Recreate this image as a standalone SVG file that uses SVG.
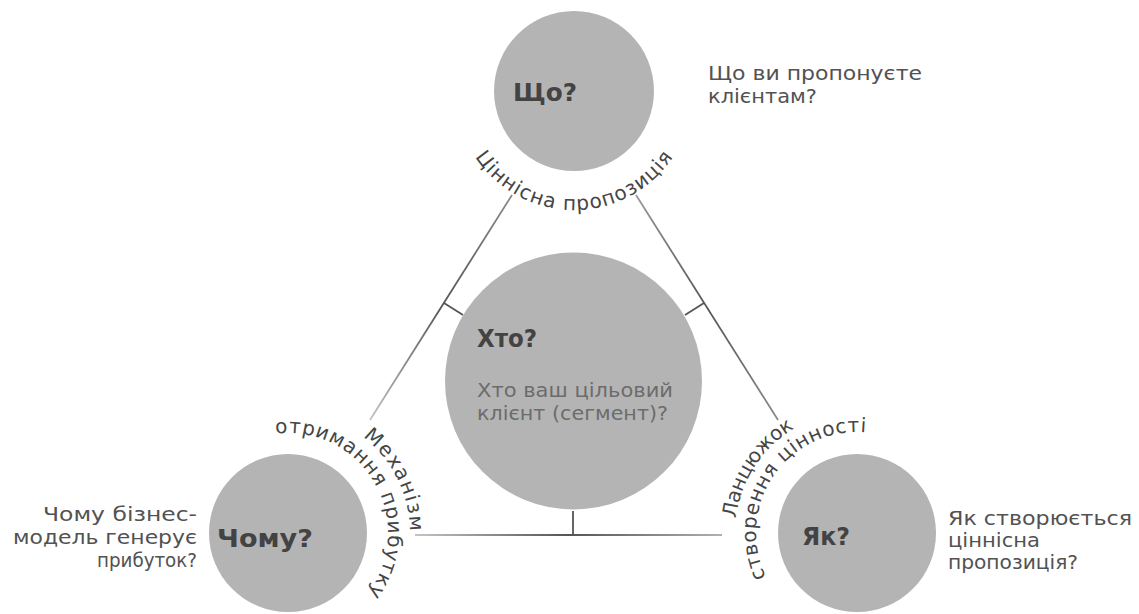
<svg xmlns="http://www.w3.org/2000/svg" xmlns:xlink="http://www.w3.org/1999/xlink" width="1139" height="614" viewBox="0 0 1139 614">
  <style>
    .disc { fill: #b4b4b4; }
    .title { font-family: "DejaVu Sans", "Open Sans", sans-serif; font-weight: bold; font-size: 25px; fill: #434343; }
    .note { font-family: "DejaVu Sans", "Open Sans", sans-serif; font-size: 20px; fill: #525252; }
    .inner { font-family: "DejaVu Sans", "Open Sans", sans-serif; font-size: 20px; fill: #6c6c6c; }
    .arc { font-family: "DejaVu Sans", "Open Sans", sans-serif; font-size: 20px; fill: #454545; }
    .link { fill: none; stroke-width: 1.8; }
  </style>
  <defs>
    <linearGradient id="gLeft" gradientUnits="userSpaceOnUse" x1="512" y1="195" x2="370" y2="420">
      <stop offset="0" stop-color="#8a8a8a"/>
      <stop offset="0.5" stop-color="#555555"/>
      <stop offset="1" stop-color="#c2c2c2"/>
    </linearGradient>
    <linearGradient id="gRight" gradientUnits="userSpaceOnUse" x1="636" y1="195" x2="778" y2="420">
      <stop offset="0" stop-color="#9a9a9a"/>
      <stop offset="0.5" stop-color="#555555"/>
      <stop offset="1" stop-color="#8a8a8a"/>
    </linearGradient>
    <linearGradient id="gBottom" gradientUnits="userSpaceOnUse" x1="415" y1="535" x2="722" y2="535">
      <stop offset="0" stop-color="#c4c4c4"/>
      <stop offset="0.5" stop-color="#555555"/>
      <stop offset="1" stop-color="#b0b0b0"/>
    </linearGradient>
    <!-- baselines for the curved captions -->
    <path id="arcTop" d="M 455,91 A 119 119 0 0 0 693,91"/>
    <path id="arcLeftOuter" d="M 169.4,504.5 A 122 122 0 1 1 239.4,644.9"/>
    <path id="arcLeftInner" d="M 189.5,515.6 A 100 100 0 1 1 253.8,627.0"/>
    <path id="arcRightOuter" d="M 892.7,649.7 A 122 122 0 1 1 978.1,518.1"/>
    <path id="arcRightInner" d="M 884.0,630.3 A 101 101 0 1 1 957.5,523.3"/>
  </defs>

  <rect width="1139" height="614" fill="#ffffff"/>

  <!-- triangle of connectors with ticks pointing at the centre -->
  <g id="connectors">
    <line class="link" stroke="url(#gLeft)" x1="512" y1="195" x2="370" y2="420"/>
    <line class="link" stroke="url(#gRight)" x1="636" y1="195" x2="778" y2="420"/>
    <line class="link" stroke="url(#gBottom)" x1="415" y1="535" x2="722" y2="535"/>
    <line class="link" stroke="#555555" x1="444" y1="303" x2="463" y2="315"/>
    <line class="link" stroke="#555555" x1="704" y1="303" x2="685" y2="315"/>
    <line class="link" stroke="#555555" x1="573" y1="511" x2="573" y2="535"/>
  </g>

  <g id="node-what">
    <circle class="disc" cx="574" cy="91" r="80"/>
    <text class="title" x="513" y="101" textLength="64" lengthAdjust="spacingAndGlyphs">Що?</text>
    <text class="note" x="708" y="80" textLength="214" lengthAdjust="spacingAndGlyphs">Що ви пропонуєте</text>
    <text class="note" x="708" y="103" textLength="109" lengthAdjust="spacingAndGlyphs">клієнтам?</text>
    <text class="arc"><textPath href="#arcTop" startOffset="50%" text-anchor="middle" textLength="234">Ціннісна пропозиція</textPath></text>
  </g>

  <g id="node-who">
    <circle class="disc" cx="573.5" cy="381" r="128.5"/>
    <text class="title" x="477" y="347" textLength="60" lengthAdjust="spacingAndGlyphs">Хто?</text>
    <text class="inner" x="477" y="397" textLength="196" lengthAdjust="spacingAndGlyphs">Хто ваш цільовий</text>
    <text class="inner" x="477" y="420" textLength="191" lengthAdjust="spacingAndGlyphs">клієнт (сегмент)?</text>
  </g>

  <g id="node-why">
    <circle class="disc" cx="288" cy="533" r="79"/>
    <text class="title" x="217" y="547" textLength="96" lengthAdjust="spacingAndGlyphs">Чому?</text>
    <text class="note" x="197" y="521" text-anchor="end" textLength="154" lengthAdjust="spacingAndGlyphs">Чому бізнес-</text>
    <text class="note" x="197" y="544" text-anchor="end" textLength="184" lengthAdjust="spacingAndGlyphs">модель генерує</text>
    <text class="note" x="197" y="567" text-anchor="end" textLength="100" lengthAdjust="spacingAndGlyphs">прибуток?</text>
    <text class="arc"><textPath href="#arcLeftOuter" startOffset="50%" text-anchor="middle" textLength="109">Механізм</textPath></text>
    <text class="arc"><textPath href="#arcLeftInner" startOffset="50%" text-anchor="middle" textLength="234">отримання прибутку</textPath></text>
  </g>

  <g id="node-how">
    <circle class="disc" cx="857" cy="533" r="79"/>
    <text class="title" x="802" y="545" textLength="48" lengthAdjust="spacingAndGlyphs">Як?</text>
    <text class="note" x="948" y="525" textLength="184" lengthAdjust="spacingAndGlyphs">Як створюється</text>
    <text class="note" x="948" y="547" textLength="92" lengthAdjust="spacingAndGlyphs">ціннісна</text>
    <text class="note" x="948" y="569" textLength="130" lengthAdjust="spacingAndGlyphs">пропозиція?</text>
    <text class="arc"><textPath href="#arcRightOuter" startOffset="50%" text-anchor="middle" textLength="111">Ланцюжок</textPath></text>
    <text class="arc"><textPath href="#arcRightInner" startOffset="50%" text-anchor="middle" textLength="213">створення цінності</textPath></text>
  </g>
</svg>
